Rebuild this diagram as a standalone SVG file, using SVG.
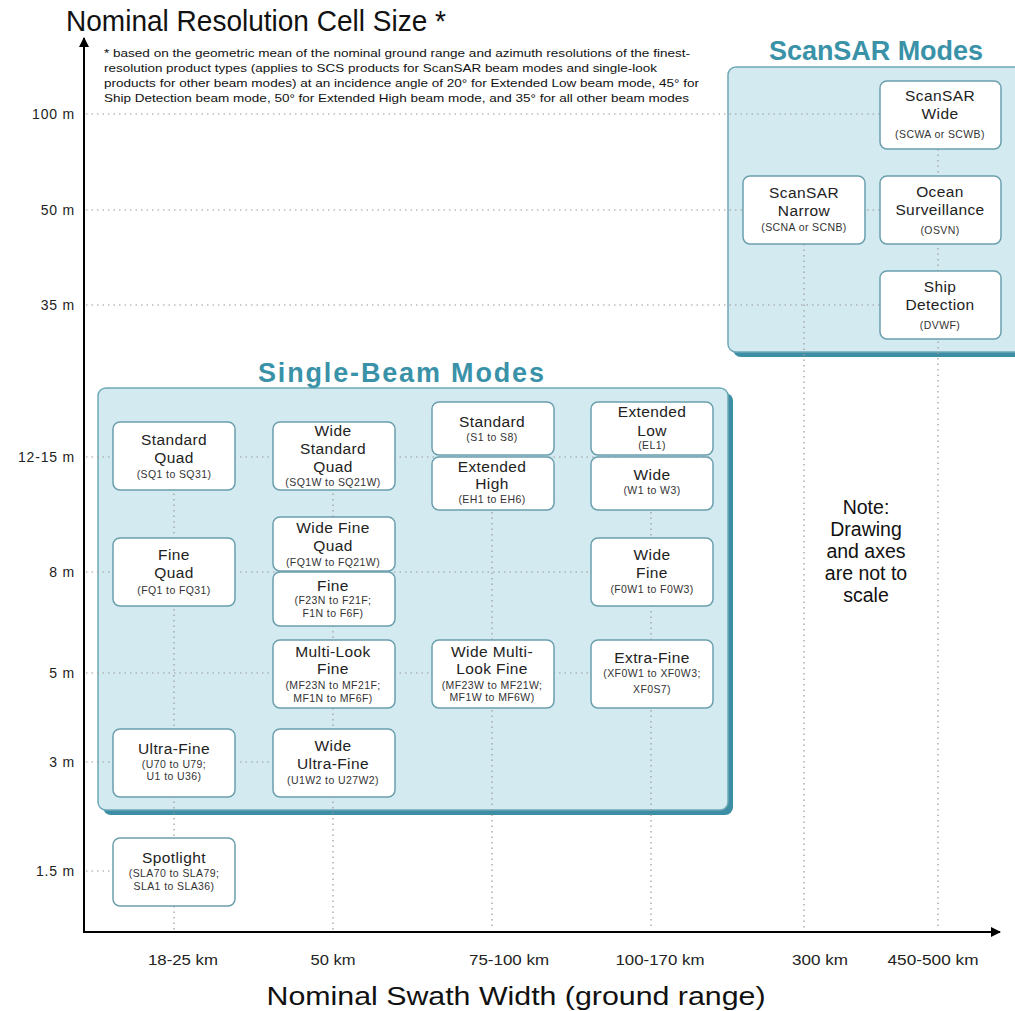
<svg xmlns="http://www.w3.org/2000/svg" width="1015" height="1011" viewBox="0 0 1015 1011">
<defs>
<marker id="arr" viewBox="0 0 10 10" refX="9" refY="5" markerWidth="10" markerHeight="10" markerUnits="userSpaceOnUse" orient="auto"><path d="M0,0 L10,5 L0,10 z" fill="#000"/></marker>
<style>
.panel{fill:#d3eaf0;stroke:#6fa8b7;stroke-width:1.5}
.shadow{fill:#3b8ea3}
.ptitle{font-family:"Liberation Sans",Arial,sans-serif;font-weight:bold;font-size:27px;fill:#3a92a8;text-anchor:middle}
.node rect{fill:#fff;stroke:#6b9fad;stroke-width:1.5}
.t{font-family:"Liberation Sans",Arial,sans-serif;font-size:15.5px;letter-spacing:0.4px;fill:#222;text-anchor:middle}
.s{font-family:"Liberation Sans",Arial,sans-serif;font-size:10.5px;letter-spacing:0.4px;fill:#333;text-anchor:middle}
.grid line{stroke:#9a9a9a;stroke-width:1.2;stroke-dasharray:1.5 4}
.ylab{font-family:"Liberation Sans",Arial,sans-serif;font-size:14px;letter-spacing:0.8px;fill:#222;text-anchor:end}
.xlab{font-family:"Liberation Sans",Arial,sans-serif;font-size:14px;fill:#222;text-anchor:middle}
.foot{font-family:"Liberation Sans",Arial,sans-serif;font-size:11.5px;fill:#111}
</style>
</defs>
<rect width="1015" height="1011" fill="#fff"/>

<!-- titles -->
<text x="66" y="31" font-family="Liberation Sans, Arial, sans-serif" font-size="29" fill="#111" textLength="380" lengthAdjust="spacingAndGlyphs">Nominal Resolution Cell Size *</text>
<g class="foot">
<text x="104" y="57" textLength="586" lengthAdjust="spacingAndGlyphs">* based on the geometric mean of the nominal ground range and azimuth resolutions of the finest-</text>
<text x="104" y="72" textLength="553" lengthAdjust="spacingAndGlyphs">resolution product types (applies to SCS products for ScanSAR beam modes and single-look</text>
<text x="104" y="87" textLength="595" lengthAdjust="spacingAndGlyphs">products for other beam modes) at an incidence angle of 20° for Extended Low beam mode, 45° for</text>
<text x="104" y="102" textLength="585" lengthAdjust="spacingAndGlyphs">Ship Detection beam mode, 50° for Extended High beam mode, and 35° for all other beam modes</text>
</g>
<text x="516" y="1005" font-family="Liberation Sans, Arial, sans-serif" font-size="26" fill="#111" text-anchor="middle" textLength="499" lengthAdjust="spacingAndGlyphs">Nominal Swath Width (ground range)</text>

<!-- panels -->
<g id="panel-singlebeam">
<rect class="shadow" x="103" y="393" width="630" height="422" rx="8"/>
<rect class="panel" x="98" y="388" width="630" height="422" rx="8"/>
<text class="ptitle" x="401" y="382" textLength="286" lengthAdjust="spacing">Single-Beam Modes</text>
</g>
<g id="panel-scansar">
<rect class="shadow" x="733" y="72" width="300" height="285" rx="8"/>
<rect class="panel" x="728" y="67" width="300" height="285" rx="8"/>
<text class="ptitle" x="876" y="60" textLength="214" lengthAdjust="spacing">ScanSAR Modes</text>
</g>

<!-- connectors / grid -->
<g id="connectors" class="grid">
<line x1="86" y1="114" x2="880" y2="114"/>
<line x1="86" y1="210" x2="880" y2="210"/>
<line x1="86" y1="305" x2="880" y2="305"/>
<line x1="86" y1="457" x2="713" y2="457"/>
<line x1="86" y1="572" x2="713" y2="572"/>
<line x1="86" y1="673" x2="713" y2="673"/>
<line x1="86" y1="762" x2="395" y2="762"/>
<line x1="86" y1="871" x2="113" y2="871"/>
<line x1="174" y1="422" x2="174" y2="930"/>
<line x1="333" y1="422" x2="333" y2="930"/>
<line x1="492" y1="402" x2="492" y2="930"/>
<line x1="651" y1="402" x2="651" y2="930"/>
<line x1="804" y1="244" x2="804" y2="930"/>
<line x1="938" y1="149" x2="938" y2="930"/>
</g>

<!-- axes -->
<g id="axes">
<line x1="84" y1="933" x2="84" y2="38" stroke="#000" stroke-width="2" marker-end="url(#arr)"/>
<line x1="83" y1="932" x2="1000" y2="932" stroke="#000" stroke-width="2" marker-end="url(#arr)"/>
</g>
<g id="ylabels">
<text class="ylab" x="75" y="119">100 m</text>
<text class="ylab" x="75" y="215">50 m</text>
<text class="ylab" x="75" y="310">35 m</text>
<text class="ylab" x="75" y="462">12-15 m</text>
<text class="ylab" x="75" y="577">8 m</text>
<text class="ylab" x="75" y="678">5 m</text>
<text class="ylab" x="75" y="767">3 m</text>
<text class="ylab" x="75" y="876">1.5 m</text>
</g>
<g id="xlabels">
<text class="xlab" x="183" y="965" textLength="70" lengthAdjust="spacingAndGlyphs">18-25 km</text>
<text class="xlab" x="333" y="965" textLength="45" lengthAdjust="spacingAndGlyphs">50 km</text>
<text class="xlab" x="509" y="965" textLength="80" lengthAdjust="spacingAndGlyphs">75-100 km</text>
<text class="xlab" x="660" y="965" textLength="89" lengthAdjust="spacingAndGlyphs">100-170 km</text>
<text class="xlab" x="820" y="965" textLength="56" lengthAdjust="spacingAndGlyphs">300 km</text>
<text class="xlab" x="933" y="965" textLength="91" lengthAdjust="spacingAndGlyphs">450-500 km</text>
</g>

<!-- nodes -->
<g id="node-standard-quad" class="node"><rect x="113" y="422" width="122" height="68" rx="7"/>
<text class="t" x="174" y="445">Standard</text><text class="t" x="174" y="463">Quad</text><text class="s" x="174" y="478">(SQ1 to SQ31)</text></g>
<g id="node-fine-quad" class="node"><rect x="113" y="538" width="122" height="68" rx="7"/>
<text class="t" x="174" y="560">Fine</text><text class="t" x="174" y="578">Quad</text><text class="s" x="174" y="594">(FQ1 to FQ31)</text></g>
<g id="node-ultra-fine" class="node"><rect x="113" y="729" width="122" height="68" rx="7"/>
<text class="t" x="174" y="754">Ultra-Fine</text><text class="s" x="174" y="768">(U70 to U79;</text><text class="s" x="174" y="780">U1 to U36)</text></g>
<g id="node-spotlight" class="node"><rect x="113" y="838" width="122" height="68" rx="7"/>
<text class="t" x="174" y="863">Spotlight</text><text class="s" x="174" y="877">(SLA70 to SLA79;</text><text class="s" x="174" y="890">SLA1 to SLA36)</text></g>

<g id="node-wide-standard-quad" class="node"><rect x="273" y="422" width="122" height="68" rx="7"/>
<text class="t" x="333" y="436">Wide</text><text class="t" x="333" y="454">Standard</text><text class="t" x="333" y="472">Quad</text><text class="s" x="333" y="486">(SQ1W to SQ21W)</text></g>
<g id="node-wide-fine-quad" class="node"><rect x="273" y="517" width="122" height="54" rx="7"/>
<text class="t" x="333" y="533">Wide Fine</text><text class="t" x="333" y="551">Quad</text><text class="s" x="333" y="566">(FQ1W to FQ21W)</text></g>
<g id="node-fine" class="node"><rect x="273" y="572" width="122" height="54" rx="7"/>
<text class="t" x="333" y="591">Fine</text><text class="s" x="333" y="604">(F23N to F21F;</text><text class="s" x="333" y="617">F1N to F6F)</text></g>
<g id="node-multi-look-fine" class="node"><rect x="273" y="640" width="122" height="68" rx="7"/>
<text class="t" x="333" y="657">Multi-Look</text><text class="t" x="333" y="674">Fine</text><text class="s" x="333" y="689">(MF23N to MF21F;</text><text class="s" x="333" y="702">MF1N to MF6F)</text></g>
<g id="node-wide-ultra-fine" class="node"><rect x="273" y="729" width="122" height="68" rx="7"/>
<text class="t" x="333" y="751">Wide</text><text class="t" x="333" y="769">Ultra-Fine</text><text class="s" x="333" y="784">(U1W2 to U27W2)</text></g>

<g id="node-standard" class="node"><rect x="432" y="402" width="122" height="53" rx="7"/>
<text class="t" x="492" y="427">Standard</text><text class="s" x="492" y="441">(S1 to S8)</text></g>
<g id="node-extended-high" class="node"><rect x="432" y="457" width="122" height="53" rx="7"/>
<text class="t" x="492" y="472">Extended</text><text class="t" x="492" y="489">High</text><text class="s" x="492" y="503">(EH1 to EH6)</text></g>
<g id="node-wide-multi-look-fine" class="node"><rect x="432" y="640" width="122" height="68" rx="7"/>
<text class="t" x="492" y="657">Wide Multi-</text><text class="t" x="492" y="674">Look Fine</text><text class="s" x="492" y="689">(MF23W to MF21W;</text><text class="s" x="492" y="701">MF1W to MF6W)</text></g>

<g id="node-extended-low" class="node"><rect x="591" y="402" width="122" height="53" rx="7"/>
<text class="t" x="652" y="417">Extended</text><text class="t" x="652" y="436">Low</text><text class="s" x="652" y="449">(EL1)</text></g>
<g id="node-wide" class="node"><rect x="591" y="457" width="122" height="53" rx="7"/>
<text class="t" x="652" y="480">Wide</text><text class="s" x="652" y="494">(W1 to W3)</text></g>
<g id="node-wide-fine" class="node"><rect x="591" y="538" width="122" height="68" rx="7"/>
<text class="t" x="652" y="560">Wide</text><text class="t" x="652" y="578">Fine</text><text class="s" x="652" y="593">(F0W1 to F0W3)</text></g>
<g id="node-extra-fine" class="node"><rect x="591" y="640" width="122" height="68" rx="7"/>
<text class="t" x="652" y="663">Extra-Fine</text><text class="s" x="652" y="677">(XF0W1 to XF0W3;</text><text class="s" x="652" y="693">XF0S7)</text></g>

<g id="node-scansar-wide" class="node"><rect x="880" y="81" width="121" height="68" rx="7"/>
<text class="t" x="940" y="101">ScanSAR</text><text class="t" x="940" y="119">Wide</text><text class="s" x="940" y="138">(SCWA or SCWB)</text></g>
<g id="node-scansar-narrow" class="node"><rect x="743" y="176" width="122" height="68" rx="7"/>
<text class="t" x="804" y="198">ScanSAR</text><text class="t" x="804" y="216">Narrow</text><text class="s" x="804" y="231">(SCNA or SCNB)</text></g>
<g id="node-ocean-surveillance" class="node"><rect x="880" y="176" width="121" height="68" rx="7"/>
<text class="t" x="940" y="197">Ocean</text><text class="t" x="940" y="215">Surveillance</text><text class="s" x="940" y="234">(OSVN)</text></g>
<g id="node-ship-detection" class="node"><rect x="880" y="271" width="121" height="68" rx="7"/>
<text class="t" x="940" y="292">Ship</text><text class="t" x="940" y="310">Detection</text><text class="s" x="940" y="329">(DVWF)</text></g>

<g id="note" font-family="Liberation Sans, Arial, sans-serif" font-size="19.5" fill="#111" text-anchor="middle">
<text x="866" y="514">Note:</text>
<text x="866" y="536">Drawing</text>
<text x="866" y="558">and axes</text>
<text x="866" y="580">are not to</text>
<text x="866" y="602">scale</text>
</g>
</svg>
